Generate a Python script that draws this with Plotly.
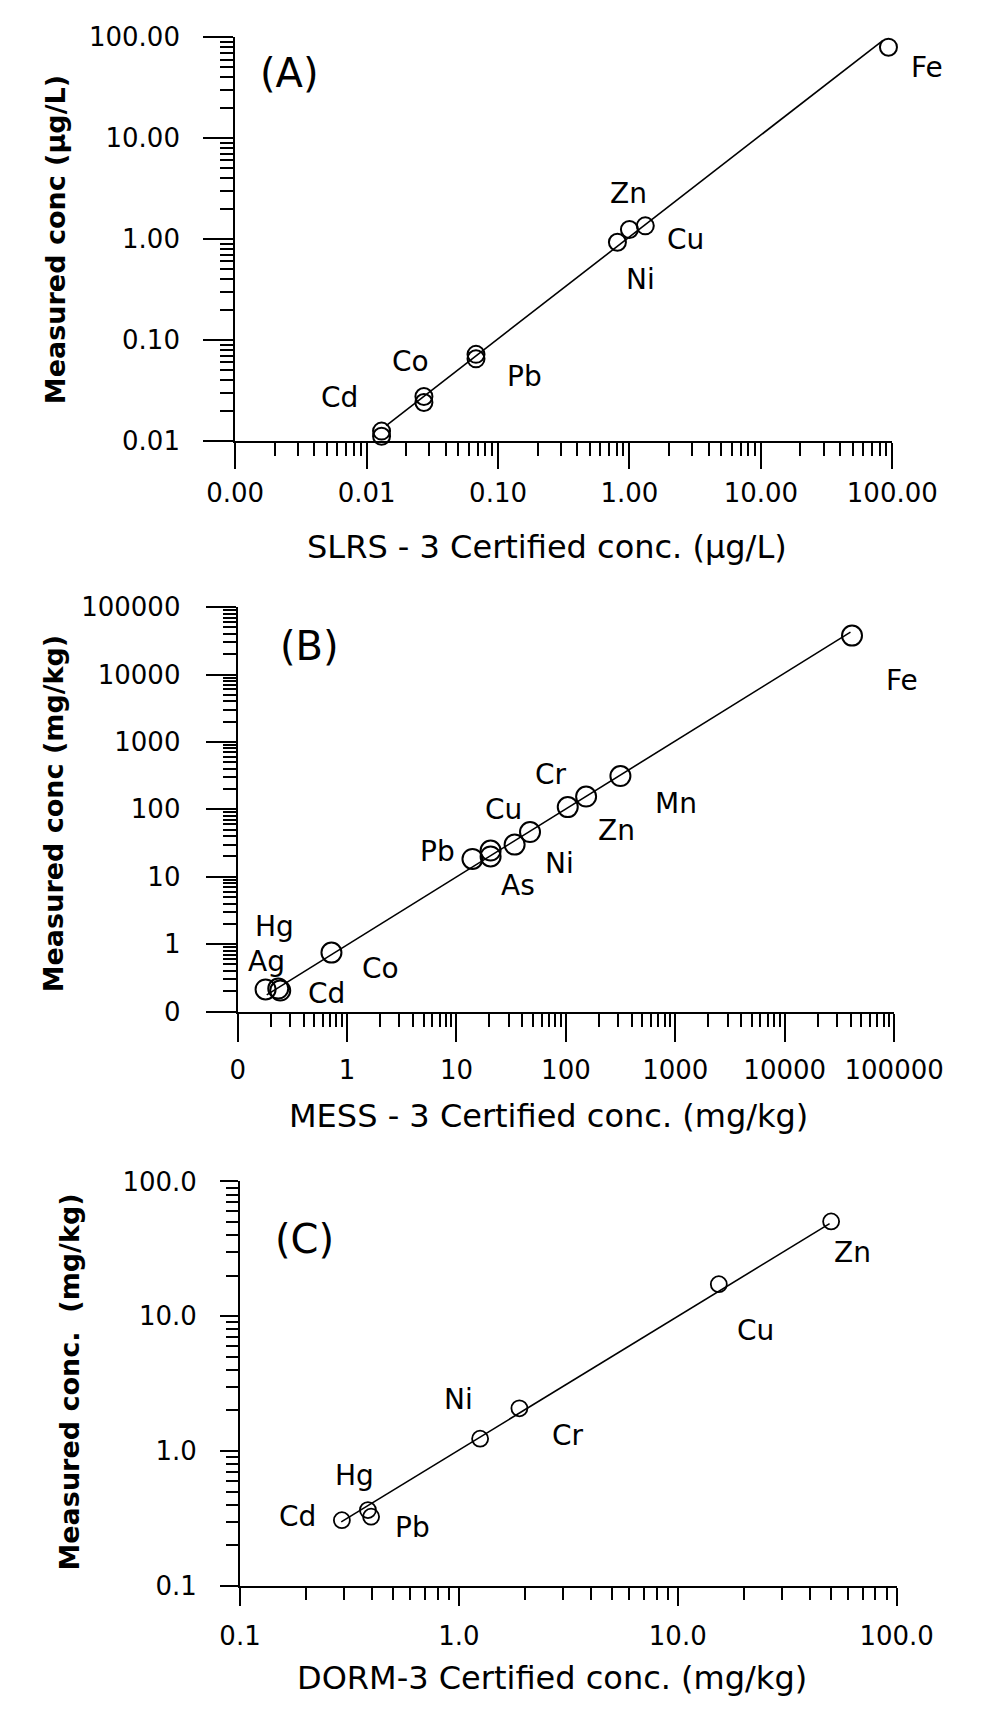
import numpy as np
import plotly.graph_objects as go

W, H = 992, 1710
FONT = "DejaVu Sans"

# ---------------- Panel A : SLRS-3 (ug/L) ----------------
a_cert = [0.013, 0.013, 0.0273, 0.0273, 0.068, 0.068, 0.81, 1.0, 1.32, 93.5]
a_meas = [0.0125, 0.0111, 0.0275, 0.0240, 0.072, 0.065, 0.93, 1.24, 1.35, 79.5]
a_fit_x = [0.0141, 85.0]
a_fit_y = [0.0142, 93.0]
a_labels = ["Cd", "Co", "Pb", "Zn", "Cu", "Ni", "Fe"]
a_label_x = [0.00617, 0.0216, 0.160, 0.982, 2.68, 1.22, 93.5]
a_label_y = [0.0271, 0.0611, 0.0434, 2.82, 0.99, 0.399, 49.5]
a_xticks = [0.001, 0.01, 0.1, 1, 10, 100]
a_xticktext = ["0.00", "0.01", "0.10", "1.00", "10.00", "100.00"]
a_yticks = [0.01, 0.1, 1, 10, 100]
a_yticktext = ["0.01", "0.10", "1.00", "10.00", "100.00"]

# ---------------- Panel B : MESS-3 (mg/kg) ----------------
b_cert = [0.18, 0.235, 0.245, 0.72, 14.0, 20.5, 20.5, 34.0, 47.0, 104.0, 153.0, 315.0, 41200.0]
b_meas = [0.213, 0.22, 0.205, 0.75, 18.4, 20.0, 24.5, 30.0, 46.0, 108.0, 155.0, 312.0, 37800.0]
b_fit_x = [0.1845, 39900.0]
b_fit_y = [0.1775, 42600.0]
b_labels = ["Hg", "Ag", "Cd", "Co", "Pb", "Cu", "As", "Ni", "Cr", "Zn", "Mn", "Fe"]
b_label_x = [0.217, 0.1845, 0.642, 2.01, 6.64, 27.1, 36.2, 86.7, 72.4, 292, 1020, 41200]
b_label_y = [1.82, 0.56, 0.184, 0.434, 24.1, 101, 7.35, 15.7, 324, 48.8, 122, 8200]
b_ticks = [0.1, 1, 10, 100, 1000, 10000, 100000]
b_ticktext = ["0", "1", "10", "100", "1000", "10000", "100000"]

# ---------------- Panel C : DORM-3 (mg/kg) ----------------
c_cert = [0.292, 0.384, 0.397, 1.25, 1.89, 15.4, 50.2]
c_meas = [0.307, 0.365, 0.326, 1.235, 2.075, 17.3, 50.5]
c_fit_x = [0.29, 49.4]
c_fit_y = [0.298, 48.7]
c_labels = ["Ni", "Hg", "Cd", "Pb", "Cr", "Cu", "Zn"]
c_label_x = [0.995, 0.334, 0.183, 0.614, 3.14, 22.6, 63.0]
c_label_y = [2.42, 0.663, 0.326, 0.272, 1.31, 7.8, 29.5]
c_ticks = [0.1, 1, 10, 100]
c_ticktext = ["0.1", "1.0", "10.0", "100.0"]

fig = go.Figure()


def add_panel(n, cert, meas, fx, fy, msize, mlw):
    xa = "x" if n == 1 else f"x{n}"
    ya = "y" if n == 1 else f"y{n}"
    fig.add_trace(go.Scatter(x=fx, y=fy, mode="lines", xaxis=xa, yaxis=ya,
                             line=dict(color="black", width=1.6),
                             showlegend=False, hoverinfo="skip"))
    fig.add_trace(go.Scatter(x=cert, y=meas, mode="markers", xaxis=xa, yaxis=ya,
                             marker=dict(symbol="circle-open", size=msize, color="black",
                                         line=dict(width=mlw, color="black")),
                             showlegend=False, cliponaxis=False))


add_panel(1, a_cert, a_meas, a_fit_x, a_fit_y, 17, 2)
add_panel(2, b_cert, b_meas, b_fit_x, b_fit_y, 20, 2)
add_panel(3, c_cert, c_meas, c_fit_x, c_fit_y, 16, 1.8)


def log_axis(domain, rng, tickvals, ticktext, ticklen, minorlen, standoff, anchor):
    minor_vals = [m * 10.0 ** e for e in range(rng[0], rng[1]) for m in range(2, 10)]
    return dict(type="log", domain=domain, range=list(rng), anchor=anchor,
                tickmode="array", tickvals=tickvals, ticktext=ticktext,
                ticks="outside", ticklen=ticklen, tickwidth=2, tickcolor="black",
                showline=True, linewidth=2, linecolor="black",
                showgrid=False, zeroline=False,
                tickfont=dict(family=FONT, size=26, color="black"),
                ticklabelstandoff=standoff,
                minor=dict(ticks="outside", ticklen=minorlen, tickwidth=1.6,
                           tickcolor="black", tickmode="array", tickvals=minor_vals,
                           showgrid=False))


def px_x(p):
    return p / W


def px_y(p):
    return 1 - p / H


fig.update_layout(
    xaxis=log_axis([px_x(224), px_x(938)], (-3, 2), a_xticks, a_xticktext, 26, 13, 2, "y"),
    yaxis=log_axis([px_y(433.5), px_y(22.5)], (-2, 2), a_yticks, a_yticktext, 30, 13, 18, "x"),
    xaxis2=log_axis([px_x(226.7), px_x(940)], (-1, 5), b_ticks, b_ticktext, 28, 13, 6, "y2"),
    yaxis2=log_axis([px_y(1014.4), px_y(602.7)], (-1, 5), b_ticks, b_ticktext, 30, 13, 20, "x2"),
    xaxis3=log_axis([px_x(229.3), px_x(942.7)], (-1, 2), c_ticks, c_ticktext, 18, 12, 8, "y3"),
    yaxis3=log_axis([px_y(1598.9), px_y(1187.3)], (-1, 2), c_ticks, c_ticktext, 18, 12, 18, "x3"),
)

ann = []


def label(text, x, y, xr, yr, size=28, xshift=0):
    ann.append(dict(text=text, x=np.log10(x), y=np.log10(y), xref=xr, yref=yr,
                    showarrow=False, xanchor="center", yanchor="middle", xshift=xshift,
                    font=dict(family=FONT, size=size, color="black")))


for t, x, y in zip(a_labels, a_label_x, a_label_y):
    label(t, x, y, "x", "y", xshift=39 if t == "Fe" else 0)
for t, x, y in zip(b_labels, b_label_x, b_label_y):
    label(t, x, y, "x2", "y2", xshift=50 if t == "Fe" else 0)
for t, x, y in zip(c_labels, c_label_x, c_label_y):
    label(t, x, y, "x3", "y3")

label("(A)", 0.00258, 44.0, "x", "y", size=40)
label("(B)", 0.456, 26300, "x2", "y2", size=40)
label("(C)", 0.198, 37.7, "x3", "y3", size=40)


def title(text, xp, yp, angle=0, size=32, bold=False):
    ann.append(dict(text=f"<b>{text}</b>" if bold else text, x=px_x(xp), y=px_y(yp),
                    xref="paper", yref="paper",
                    showarrow=False, xanchor="center", yanchor="middle", textangle=angle,
                    font=dict(family=FONT, size=size, color="black")))


title("Measured conc (µg/L)", 29.5, 229, -90, 27, bold=True)
title("SLRS - 3 Certified conc. (µg/L)", 563, 542)
title("Measured conc (mg/kg)", 26.7, 813, -90, 27, bold=True)
title("MESS - 3 Certified conc. (mg/kg)", 564.7, 1121)
title("Measured conc.\u00a0 (mg/kg)", 44, 1391.5, -90, 27, bold=True)
title("DORM-3 Certified conc. (mg/kg)", 568, 1692.7)

fig.update_layout(annotations=ann, width=W, height=H,
                  margin=dict(l=0, r=0, t=0, b=0),
                  paper_bgcolor="white", plot_bgcolor="white", showlegend=False)

fig.write_html("out.html")
